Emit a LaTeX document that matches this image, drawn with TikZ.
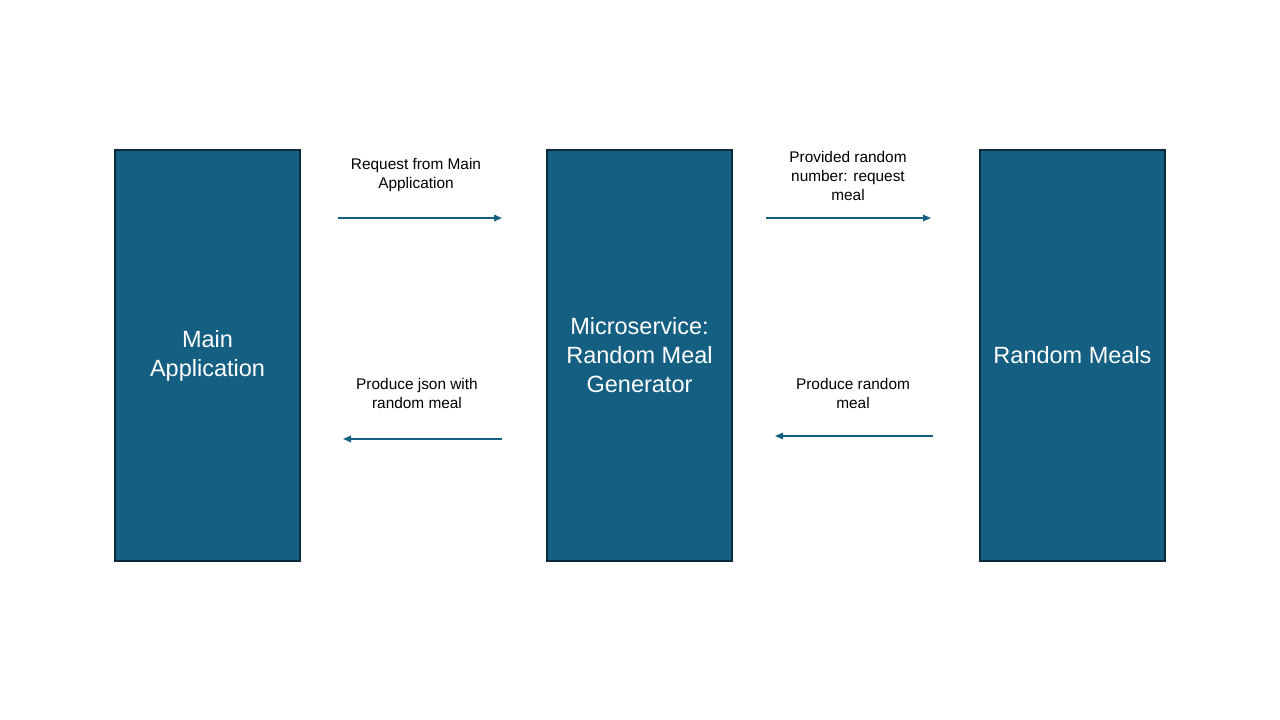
\documentclass[tikz,border=0pt]{standalone}
\usepackage{fontspec}
\setmainfont{Liberation Sans}
\usetikzlibrary{positioning,arrows.meta}

\definecolor{boxblue}{HTML}{156082}
\definecolor{boxedge}{HTML}{0C2A3A}

\tikzset{
    block/.style={draw=boxedge, line width=1.5pt, fill=boxblue, text=white,
        minimum width=185pt, minimum height=411pt, align=center,
        font=\fontsize{23.5}{29}\selectfont},
    flow/.style={draw=boxblue, line width=1.6pt, -{Triangle[length=8pt,width=6.5pt]}},
    lbl/.style={align=center, font=\fontsize{15.4}{19}\selectfont, inner sep=0pt}
}

\begin{document}
\begin{tikzpicture}[x=1pt,y=-1pt]

        \useasboundingbox (0,0) rectangle (1280,720);

        \node[block] (main) at (207.5,355.5) {Main\\Application};
        \node[block] (micro) at (639.5,355.5) {Microservice:\\Random Meal\\Generator};
        \node[block] (meals) at (1072.5,355.5) {Random Meals};

        % top arrows
        \coordinate (reqA) at (338,218);
        \coordinate (reqB) at (502,218);
        \coordinate (numA) at (766,218);
        \coordinate (numB) at (931,218);
        \draw[flow] (reqA) -- (reqB);
        \draw[flow] (numA) -- (numB);
        \node[lbl] (reqlbl) at (416,175) {Request from Main\\Application};
        \node[lbl] (numlbl) at (848,176) {Provided random\\number: request\\meal};

        % bottom arrows
        \coordinate (jsonA) at (502,439);
        \coordinate (jsonB) at (343,439);
        \coordinate (mealA) at (933,436);
        \coordinate (mealB) at (775,436);
        \draw[flow] (jsonA) -- (jsonB);
        \draw[flow] (mealA) -- (mealB);
        \node[lbl] (jsonlbl) at (417,393.5) {Produce json with\\random meal};
        \node[lbl] (meallbl) at (853,393.5) {Produce random\\meal};

\end{tikzpicture}
\end{document}
